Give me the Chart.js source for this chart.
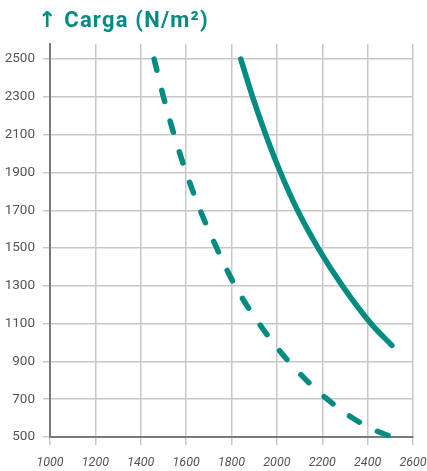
<!DOCTYPE html>
<html>
<head>
<meta charset="utf-8">
<script src="https://cdn.jsdelivr.net/npm/chart.js@4"></script>
<style>
  html, body { margin: 0; padding: 0; background: #fff; }
  #caja { position: relative; width: 427px; height: 471px; }
  #titulo {
    position: absolute; left: 38px; top: 7px;
    font-family: Roboto, 'DejaVu Sans', sans-serif;
    font-weight: bold; font-size: 22px; letter-spacing: 1.2px;
    color: #008c80; white-space: nowrap;
  }
  #grafico { position: absolute; left: 0; top: 0; }
</style>
</head>
<body>
<div id="caja">
  <canvas id="grafico" width="427" height="471"></canvas>
  <div id="titulo">↑ Carga (N/m²)</div>
</div>
<script>
// valores
var ticksX = [1000, 1200, 1400, 1600, 1800, 2000, 2200, 2400, 2600];
var ticksY = [500, 700, 900, 1100, 1300, 1500, 1700, 1900, 2100, 2300, 2500];

var luzContinua = [1841, 1893, 1951, 2016, 2091, 2182, 2289, 2415, 2507];
var cargaContinua = [2500, 2300, 2100, 1900, 1700, 1500, 1300, 1100, 985];

var luzDiscontinua = [1459, 1500, 1547, 1600, 1662, 1735, 1816, 1922, 2052, 2222, 2390, 2507];
var cargaDiscontinua = [2500, 2300, 2100, 1900, 1700, 1500, 1300, 1100, 900, 700, 560, 500];

var verde = '#008c80';
var fuenteY = { family: "Roboto, 'DejaVu Sans', sans-serif", size: 13.5 };
var fuenteX = { family: "Roboto, 'DejaVu Sans', sans-serif", size: 12.5, style: 'italic' };

function puntos(xs, ys) {
    return xs.map(function(x, i) { return { x: x, y: ys[i] }; });
}

function sinSeparador(valor) {
    return String(valor);
}

var ctx = document.getElementById('grafico').getContext('2d');
new Chart(ctx, {
    type: 'line',
    data: {
        datasets: [{
            data: puntos(luzContinua, cargaContinua),
            borderColor: verde,
            borderWidth: 5.5,
            borderCapStyle: 'round',
            borderJoinStyle: 'round',
            pointRadius: 0,
            cubicInterpolationMode: 'monotone',
            fill: false,
            clip: 10
        }, {
            data: puntos(luzDiscontinua, cargaDiscontinua),
            borderColor: verde,
            borderWidth: 5.5,
            borderDash: [11.5, 20.5],
            borderCapStyle: 'round',
            borderJoinStyle: 'round',
            pointRadius: 0,
            cubicInterpolationMode: 'monotone',
            fill: false,
            clip: 10
        }]
    },
    options: {
        responsive: false,
        animation: false,
        layout: { padding: { top: 44, right: 14, left: 0, bottom: 0 } },
        plugins: {
            legend: { display: false },
            tooltip: { enabled: false }
        },
        scales: {
            x: {
                type: 'linear',
                min: 1000,
                max: 2600,
                afterBuildTicks: function(eje) {
                    eje.ticks = ticksX.map(function(v) { return { value: v }; });
                },
                afterFit: function(eje) {
                    eje.height = 34;
                    eje.paddingLeft = 0;
                    eje.paddingRight = 0;
                },
                grid: { color: '#c8c8c8', lineWidth: 1.5, tickLength: 8 },
                border: { color: '#7a7a7a', width: 2 },
                ticks: { color: '#555', font: fuenteX, padding: 10, maxRotation: 0, callback: sinSeparador }
            },
            y: {
                type: 'linear',
                min: 500,
                max: 2580,
                afterBuildTicks: function(eje) {
                    eje.ticks = ticksY.map(function(v) { return { value: v }; });
                },
                afterFit: function(eje) {
                    eje.width = 50;
                    eje.paddingTop = 0;
                    eje.paddingBottom = 0;
                },
                grid: { color: '#c8c8c8', lineWidth: 1.5, tickLength: 7 },
                border: { color: '#7a7a7a', width: 2 },
                ticks: { color: '#555', font: fuenteY, padding: 8, callback: sinSeparador }
            }
        }
    }
});
</script>
</body>
</html>
